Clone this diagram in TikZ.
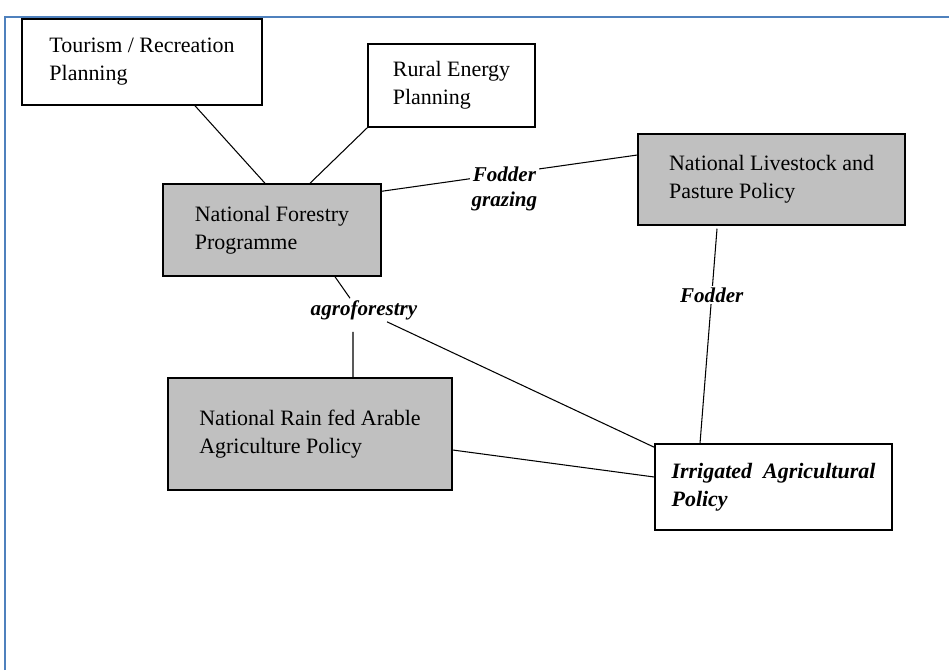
\documentclass[tikz,border=0pt]{standalone}
\usepackage{fontspec}
\setmainfont{Liberation Serif}
\definecolor{framblue}{HTML}{4F81BD}
\definecolor{boxgray}{HTML}{C0C0C0}
\tikzset{
  policy/.style={draw, line width=0.85pt, align=left, inner sep=0pt,
    font=\fontsize{12.5}{16}\selectfont},
  grey/.style={policy, fill=boxgray},
  lab/.style={font=\fontsize{12}{14.5}\selectfont\bfseries\itshape, inner sep=1pt},
  link/.style={line width=0.6pt}
}
\begin{document}
\begin{tikzpicture}[x=0.02cm,y=-0.02cm]
  \useasboundingbox (0,0) rectangle (949,670);
  \draw[framblue, line width=1.2pt] (5,670) -- (5,17) -- (949,17);
  \node[policy, minimum width=4.8cm, minimum height=1.72cm](tour) at (142,62) {Tourism / Recreation\\Planning};
  \node[policy, minimum width=3.34cm, minimum height=1.66cm](rural) at (451.5,85.5) {Rural Energy\\Planning};
  \node[grey, minimum width=4.36cm, minimum height=1.84cm](forest) at (272,230) {National Forestry\\Programme};
  \node[grey, minimum width=5.34cm, minimum height=1.82cm](live) at (771.5,179.5) {National Livestock and\\Pasture Policy};
  \node[grey, minimum width=5.68cm, minimum height=2.24cm](rain) at (310,434) {National Rain fed Arable\\Agriculture Policy};
  \node[policy, minimum width=4.74cm, minimum height=1.72cm, font=\fontsize{12.5}{16}\selectfont\bfseries\itshape](irr) at (773.5,487) {Irrigated\ \ Agricultural\\Policy};
  \node[lab](agro) at (364,310) {agroforestry};
  \draw[link] ([xshift=1.06cm]tour.south) -- ([xshift=-0.14cm]forest.north);
  \draw[link] (rural.south west) -- ([xshift=0.76cm]forest.north);
  \draw[link] ([yshift=-0.16cm]forest.north east) -- ([yshift=0.49cm]live.west)
    node[lab, pos=0.48, fill=white, align=center, yshift=-0.3cm]{Fodder\\grazing};
  \draw[link] ([xshift=1.26cm]forest.south) -- ([xshift=-0.28cm]agro.north);
  \draw[link] ([xshift=-0.22cm,yshift=-0.2cm]agro.south) -- ([xshift=0.86cm]rain.north);
  \draw[link] ([xshift=0.46cm]agro.south) -- ([yshift=-0.08cm]irr.north west);
  \draw[link] ([xshift=-1.09cm,yshift=-0.06cm]live.south) -- ([xshift=-1.47cm]irr.north)
    node[lab, pos=0.31, fill=white]{Fodder};
  \draw[link] ([yshift=-0.32cm]rain.east) -- ([yshift=0.2cm]irr.west);
  % \node at (480,5) {title};
\end{tikzpicture}
\end{document}
